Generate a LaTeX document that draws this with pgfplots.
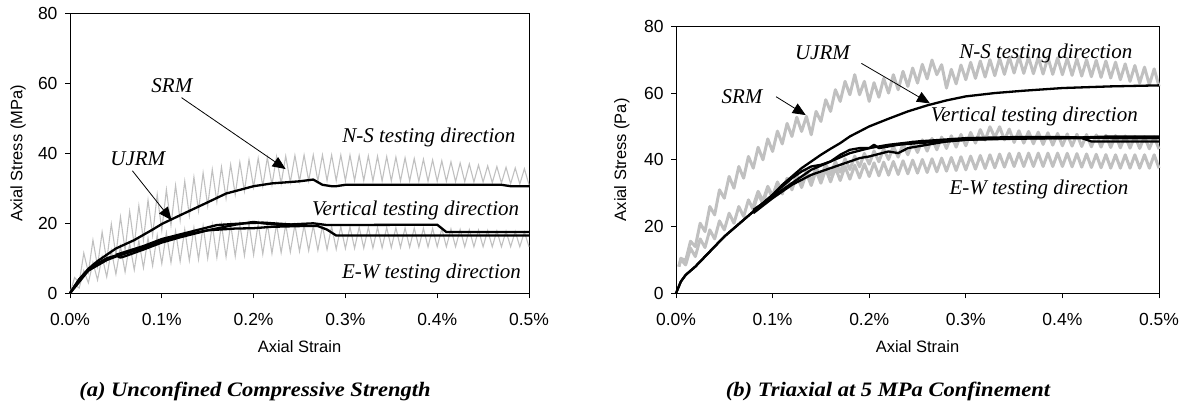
\documentclass[border=0pt]{standalone}
\usepackage{pgfplots}
\pgfplotsset{compat=1.18}
\usepackage{fontspec}
\setmainfont{Liberation Serif}
\newfontfamily\arial{Liberation Sans}
\newfontfamily\capfont[FakeStretch=1.1]{Liberation Serif}
\usetikzlibrary{arrows.meta}
\definecolor{lgray}{RGB}{192,192,192}
\tikzset{
  ann/.style={font=\itshape\fontsize{21bp}{24bp}\selectfont},
  arr/.style={-{Triangle[length=13bp,width=11bp]}, line width=0.8bp},
  captxt/.style={font=\capfont\bfseries\itshape\fontsize{20.5bp}{24bp}\selectfont},
}
\pgfplotsset{
  myaxis/.style={
    scale only axis, anchor=south west,
    xmin=0, xmax=0.5, ymin=0, ymax=80,
    xtick={0,0.1,0.2,0.3,0.4,0.5},
    xticklabels={0.0\%,0.1\%,0.2\%,0.3\%,0.4\%,0.5\%},
    ytick={0,20,40,60,80},
    xtick pos=left, ytick pos=left, tick align=outside,
    major tick length=5bp,
    tick style={black, line width=0.8bp},
    axis line style={line width=0.8bp},
    /pgf/number format/assume math mode=true,
    tick label style={font=\arial\fontsize{17.5bp}{20bp}\selectfont},
    xticklabel style={yshift=-11bp},
    yticklabel style={xshift=-4bp},
    xlabel={Axial Strain},
    clip=false,
  },
  gr/.style={lgray, line width=1.1bp, line join=miter},
  grt/.style={lgray, line width=3bp, line join=round},
  bl/.style={black, line width=2.3bp, line join=round},
}
\begin{document}
\begin{tikzpicture}
\useasboundingbox (0,0) rectangle (1183bp,407bp);
% ---------------- left -----------------
\begin{axis}[myaxis, at={(70bp,113.7bp)}, width=459bp, height=280bp,
  ylabel={Axial Stress (MPa)},
  every axis y label/.style={at={(axis description cs:-0.113,0.5)},rotate=90,anchor=center,font=\arial\fontsize{16.5bp}{19bp}\selectfont},
  every axis x label/.style={at={(axis description cs:0.5,-0.191)},anchor=center,font=\arial\fontsize{16.5bp}{19bp}\selectfont}]
% N-S gray (SRM)
\addplot[gr] coordinates {
(0,0)(0.005,4.5)(0.01,3)(0.015,11.5)(0.02,6)(0.025,15.2)(0.03,7.7)(0.035,17.5)(0.04,9.3)(0.045,19.8)
(0.05,11)(0.055,21.8)(0.06,12.4)(0.065,23.4)(0.07,13.8)(0.075,25)(0.08,15.2)(0.085,26.6)(0.09,16.6)(0.095,28.2)
(0.1,18)(0.105,29.6)(0.11,19.4)(0.115,30.8)(0.12,20.8)(0.125,32)(0.13,22.2)(0.135,33.2)(0.14,23.6)(0.145,34.4)
(0.15,25)(0.155,35.35)(0.16,26.1)(0.165,36.05)(0.17,27.1)(0.175,36.75)(0.18,28.2)(0.185,37.45)(0.19,29.2)(0.195,38.15)
(0.2,30.3)(0.205,38.6)(0.21,30.6)(0.215,38.8)(0.22,31)(0.225,39)(0.23,31.3)(0.235,39.2)(0.24,31.7)(0.245,39.4)
(0.25,32)(0.255,39.5)(0.26,32.1)(0.265,39.5)(0.27,32.1)(0.275,39.5)(0.28,32.2)(0.285,39.5)(0.29,32.2)(0.295,39.5)
(0.3,32.2)(0.305,39.45)(0.31,32.2)(0.315,39.35)(0.32,32.2)(0.325,39.25)(0.33,32.1)(0.335,39.15)(0.34,32.1)(0.345,39.05)
(0.35,32.1)(0.355,38.9)(0.36,32.1)(0.365,38.7)(0.37,32.1)(0.375,38.5)(0.38,32)(0.385,38.3)(0.39,32)(0.395,38.1)
(0.4,32)(0.405,37.85)(0.41,32)(0.415,37.55)(0.42,31.9)(0.425,37.25)(0.43,31.9)(0.435,36.95)(0.44,31.8)(0.445,36.65)
(0.45,31.8)(0.455,36.4)(0.46,31.6)(0.465,36.2)(0.47,31.5)(0.475,36)(0.48,31.3)(0.485,35.8)(0.49,31.2)(0.495,35.6)(0.5,31)};
% E-W gray (SRM)
\addplot[gr] coordinates {
(0,0)(0.005,2.5)(0.01,1.5)(0.015,6.5)(0.02,3)(0.025,8.8)(0.03,3.8)(0.035,10.5)(0.04,4.7)(0.045,12.2)
(0.05,5.5)(0.055,13.4)(0.06,6.1)(0.065,14.2)(0.07,6.7)(0.075,15)(0.08,7.3)(0.085,15.8)(0.09,7.9)(0.095,16.6)
(0.1,8.5)(0.105,17.25)(0.11,8.8)(0.115,17.75)(0.12,9.1)(0.125,18.25)(0.13,9.4)(0.135,18.75)(0.14,9.7)(0.145,19.25)
(0.15,10)(0.155,19.55)(0.16,10.2)(0.165,19.65)(0.17,10.4)(0.175,19.75)(0.18,10.6)(0.185,19.85)(0.19,10.8)(0.195,19.95)
(0.2,11)(0.205,19.95)(0.21,11.2)(0.215,19.85)(0.22,11.4)(0.225,19.75)(0.23,11.6)(0.235,19.65)(0.24,11.8)(0.245,19.55)
(0.25,12)(0.255,19.45)(0.26,12.2)(0.265,19.35)(0.27,12.3)(0.275,19.25)(0.28,12.5)(0.285,19.15)(0.29,12.6)(0.295,19.05)
(0.3,12.8)(0.305,18.98)(0.31,12.85)(0.315,18.93)(0.32,12.9)(0.325,18.88)(0.33,12.95)(0.335,18.83)(0.34,13)(0.345,18.78)
(0.35,13.05)(0.355,18.73)(0.36,13.1)(0.365,18.68)(0.37,13.15)(0.375,18.63)(0.38,13.2)(0.385,18.58)(0.39,13.25)(0.395,18.53)
(0.4,13.3)(0.405,18.45)(0.41,13.3)(0.415,18.35)(0.42,13.3)(0.425,18.25)(0.43,13.3)(0.435,18.15)(0.44,13.3)(0.445,18.05)
(0.45,13.3)(0.455,17.95)(0.46,13.3)(0.465,17.85)(0.47,13.3)(0.475,17.75)(0.48,13.3)(0.485,17.65)(0.49,13.3)(0.495,17.55)(0.5,13.3)};
% N-S black (UJRM)
\addplot[bl] coordinates {
(0,0)(0.01,4)(0.02,7)(0.03,9.2)(0.04,11)(0.05,12.8)(0.07,15.2)(0.09,18.2)(0.1,19.8)(0.12,22.3)(0.15,26)(0.17,28.5)
(0.2,30.6)(0.22,31.4)(0.25,32)(0.265,32.5)(0.275,31)(0.285,30.6)(0.29,30.6)(0.3,31)(0.35,31)(0.4,31)(0.47,31)(0.48,30.6)(0.5,30.6)};
% vertical / E-W black (UJRM)
\addplot[bl] coordinates {
(0,0)(0.01,4)(0.02,6.5)(0.03,8.5)(0.04,10)(0.05,10.8)(0.055,10.2)(0.06,10.6)(0.08,12.5)(0.1,14.5)(0.12,16)(0.15,18)
(0.18,19.6)(0.2,20.4)(0.21,20)(0.23,19.5)(0.25,19.8)(0.265,20)(0.28,19.5)(0.4,19.6)(0.41,17.5)(0.5,17.5)};
\addplot[bl] coordinates {
(0,0)(0.02,6.5)(0.04,9.5)(0.05,10.5)(0.08,13)(0.1,15)(0.13,17)(0.15,18)(0.18,18.5)(0.2,18.6)(0.22,19)(0.25,19.2)
(0.27,19.2)(0.28,18.2)(0.29,16.5)(0.5,16.5)};
\addplot[bl] coordinates {
(0.05,11)(0.08,13.5)(0.1,15.5)(0.13,17.5)(0.16,19.5)(0.19,20)(0.21,20.2)(0.25,19.5)};
\node[ann] at (axis cs:0.111,59.2) {SRM};
\draw[arr] (axis cs:0.1215,55.9) -- (axis cs:0.2349,35.5);
\node[ann] at (axis cs:0.0738,38.4) {UJRM};
\draw[arr] (axis cs:0.068,35) -- (axis cs:0.1106,20.9);
\node[ann,anchor=east] at (axis cs:0.489,44.5) {N-S testing direction};
\node[ann,anchor=east] at (axis cs:0.493,23.7) {Vertical testing direction};
\node[ann,anchor=east] at (axis cs:0.495,5.7) {E-W testing direction};
\end{axis}
% ---------------- right -----------------
\begin{axis}[myaxis, at={(676bp,113.7bp)}, width=483bp, height=267bp,
  ylabel={Axial Stress (Pa)},
  every axis y label/.style={at={(axis description cs:-0.112,0.5)},rotate=90,anchor=center,font=\arial\fontsize{16.5bp}{19bp}\selectfont},
  every axis x label/.style={at={(axis description cs:0.5,-0.200)},anchor=center,font=\arial\fontsize{16.5bp}{19bp}\selectfont}]
% N-S gray (SRM)
\addplot[grt] coordinates {
(0.003,8)(0.005,10.5)(0.01,9.8)(0.015,15.6)(0.02,14)(0.025,21)(0.03,18.5)(0.035,26)(0.04,23.5)(0.045,31)
(0.05,28.5)(0.055,35)(0.06,31.5)(0.065,38)(0.07,34.5)(0.075,41)(0.08,37.5)(0.085,43.75)(0.09,40)(0.095,46.25)
(0.1,42.5)(0.105,48.6)(0.11,44.75)(0.115,50.9)(0.12,47)(0.125,52.75)(0.13,48.5)(0.135,53)(0.14,47.5)(0.145,54.5)
(0.15,51.5)(0.155,58)(0.16,54.5)(0.165,61)(0.17,57.5)(0.175,63.5)(0.18,59.5)(0.185,65.5)(0.19,59.5)(0.195,63.5)
(0.2,57.5)(0.205,63.1)(0.21,58.75)(0.215,64.4)(0.22,60)(0.225,65.5)(0.23,61)(0.235,66.5)(0.24,62)(0.245,67.5)
(0.25,63)(0.255,68.6)(0.26,64.25)(0.265,69.9)(0.27,65.5)(0.275,68.5)(0.28,61.5)(0.285,67.1)(0.29,62.75)(0.295,68.4)
(0.3,64)(0.305,69.2)(0.31,64.4)(0.315,69.6)(0.32,64.8)(0.325,70)(0.33,65.2)(0.335,70.4)(0.34,65.6)(0.345,70.8)
(0.35,66)(0.355,70.95)(0.36,65.9)(0.365,70.85)(0.37,65.8)(0.375,70.75)(0.38,65.7)(0.385,70.65)(0.39,65.6)(0.395,70.55)
(0.4,65.5)(0.405,70.4)(0.41,65.3)(0.415,70.2)(0.42,65.1)(0.425,70)(0.43,64.9)(0.435,69.8)(0.44,64.7)(0.445,69.6)
(0.45,64.5)(0.455,69.25)(0.46,64)(0.465,68.75)(0.47,63.5)(0.475,68.25)(0.48,63)(0.485,67.75)(0.49,62.5)(0.495,67.25)(0.5,62)};
% E-W gray (SRM)
\addplot[grt] coordinates {
(0.003,8)(0.005,10.1)(0.01,8.5)(0.015,13.5)(0.02,11)(0.025,16.3)(0.03,13.7)(0.035,19)(0.04,16.3)(0.045,21.7)
(0.05,19)(0.055,24)(0.06,21)(0.065,26)(0.07,23)(0.075,28)(0.08,25)(0.085,29.9)(0.09,26.75)(0.095,31.6)
(0.1,28.5)(0.105,33.1)(0.11,29.75)(0.115,34.4)(0.12,31)(0.125,35.3)(0.13,31.7)(0.135,36)(0.14,32.3)(0.145,36.7)
(0.15,33)(0.155,37.2)(0.16,33.4)(0.165,37.6)(0.17,33.8)(0.175,38)(0.18,34.2)(0.185,38.4)(0.19,34.6)(0.195,38.8)
(0.2,35)(0.205,39.1)(0.21,35.2)(0.215,39.3)(0.22,35.4)(0.225,39.5)(0.23,35.6)(0.235,39.7)(0.24,35.8)(0.245,39.9)
(0.25,36)(0.255,40.1)(0.26,36.2)(0.265,40.3)(0.27,36.4)(0.275,40.5)(0.28,36.6)(0.285,40.7)(0.29,36.8)(0.295,40.9)
(0.3,37)(0.305,41.1)(0.31,37.2)(0.315,41.3)(0.32,37.4)(0.325,41.5)(0.33,37.6)(0.335,41.7)(0.34,37.8)(0.345,41.9)
(0.35,38)(0.355,42)(0.36,38)(0.365,42)(0.37,38)(0.375,42)(0.38,38)(0.385,42)(0.39,38)(0.395,42)
(0.4,38)(0.405,41.95)(0.41,37.9)(0.415,41.85)(0.42,37.8)(0.425,41.75)(0.43,37.7)(0.435,41.65)(0.44,37.6)(0.445,41.55)
(0.45,37.5)(0.455,41.5)(0.46,37.5)(0.465,41.5)(0.47,37.5)(0.475,41.5)(0.48,37.5)(0.485,41.5)(0.49,37.5)(0.495,41.5)(0.5,37.5)};
% vertical gray (SRM)
\addplot[grt] coordinates {
(0.08,26.2)(0.085,30.55)(0.09,27.7)(0.095,32.05)(0.1,29.2)(0.105,33.35)(0.11,30.3)(0.115,34.45)(0.12,31.4)(0.125,35.55)
(0.13,32.5)(0.135,36.65)(0.14,33.6)(0.145,37.75)(0.15,34.7)(0.155,38.7)(0.16,35.5)(0.165,39.5)(0.17,36.3)(0.175,40.3)
(0.18,37.1)(0.185,41.1)(0.19,37.9)(0.195,41.9)(0.2,38.7)(0.205,42.65)(0.21,39.4)(0.215,43.35)(0.22,40.1)(0.225,44.05)
(0.23,40.8)(0.235,44.75)(0.24,41.5)(0.245,45.45)(0.25,42.2)(0.255,46)(0.26,42.6)(0.265,46.4)(0.27,43)(0.275,46.8)
(0.28,43.4)(0.285,47.2)(0.29,43.8)(0.295,47.6)(0.3,44.2)(0.305,48.2)(0.31,45)(0.315,49.05)(0.32,45.9)(0.325,49.9)
(0.33,46.7)(0.335,49.9)(0.34,45.95)(0.345,49.2)(0.35,45.2)(0.355,48.7)(0.36,45)(0.365,48.5)(0.37,44.8)(0.375,48.3)
(0.38,44.6)(0.385,48.1)(0.39,44.4)(0.395,47.9)(0.4,44.2)(0.405,47.75)(0.41,44.1)(0.415,47.65)(0.42,44)(0.425,47.55)
(0.43,43.9)(0.435,47.45)(0.44,43.8)(0.445,47.35)(0.45,43.7)(0.455,47.25)(0.46,43.6)(0.465,47.15)(0.47,43.5)(0.475,47.05)
(0.48,43.4)(0.485,46.95)(0.49,43.3)(0.495,46.85)(0.5,43.2)};
% N-S black (UJRM)
\addplot[bl] coordinates {
(0,0)(0.005,3.5)(0.01,5.5)(0.02,8)(0.03,11)(0.04,14)(0.05,17)(0.06,19.5)(0.07,22)(0.08,24.5)(0.09,27)(0.1,29.5)
(0.11,32.5)(0.12,35)(0.13,37.5)(0.14,39.5)(0.15,41.5)(0.16,43.3)(0.17,45)(0.18,47)(0.19,48.5)(0.2,50)(0.22,52.3)
(0.24,54.5)(0.26,56.3)(0.28,57.8)(0.3,59)(0.33,60)(0.36,60.7)(0.4,61.5)(0.45,62)(0.5,62.3)};
% vertical / E-W black (UJRM)
\addplot[bl] coordinates {
(0,0)(0.005,3.5)(0.01,5.5)(0.02,8)(0.03,11)(0.04,14)(0.05,17)(0.06,19.5)(0.07,22)(0.08,24.5)(0.09,27)(0.1,29.5)
(0.11,32)(0.12,34.5)(0.13,36.5)(0.14,38)(0.15,38.5)(0.16,39.5)(0.17,41.5)(0.18,43)(0.19,43.5)(0.2,43.5)(0.205,44.5)
(0.21,43.5)(0.22,44)(0.23,44.5)(0.25,45)(0.28,45.5)(0.3,46)(0.35,46.3)(0.4,46.5)(0.42,46.5)(0.43,45.5)(0.45,45.5)(0.5,45.5)};
\addplot[bl] coordinates {
(0.08,24)(0.1,28.5)(0.11,30.5)(0.12,32.5)(0.13,34)(0.14,35.5)(0.15,36.5)(0.17,38.5)(0.19,40.5)(0.2,41)(0.22,42.5)
(0.23,42)(0.24,43.5)(0.26,44.5)(0.28,45.5)(0.3,46)(0.35,46.5)(0.4,46.5)(0.45,47)(0.5,47)};
\addplot[bl] coordinates {
(0.08,25)(0.1,29)(0.12,33)(0.14,37)(0.16,39.5)(0.18,42)(0.2,43.5)(0.22,44.5)(0.25,45.5)(0.3,46.5)(0.35,46.8)
(0.4,46.8)(0.45,46.5)(0.5,46.5)};
\node[ann] at (axis cs:0.1516,72) {UJRM};
\draw[arr] (axis cs:0.1919,68.9) -- (axis cs:0.2629,56.9);
\node[ann] at (axis cs:0.0683,58.9) {SRM};
\draw[arr] (axis cs:0.1036,58.9) -- (axis cs:0.1343,53.4);
\node[ann,anchor=east] at (axis cs:0.476,71.8) {N-S testing direction};
\node[ann,anchor=east] at (axis cs:0.4816,53.1) {Vertical testing direction};
\node[ann,anchor=east] at (axis cs:0.472,31) {E-W testing direction};
\end{axis}
% captions
\node[captxt] at (255bp,16bp) {(a) Unconfined Compressive Strength};
\node[captxt] at (888bp,16bp) {(b) Triaxial at 5 MPa Confinement};
\end{tikzpicture}
\end{document}
